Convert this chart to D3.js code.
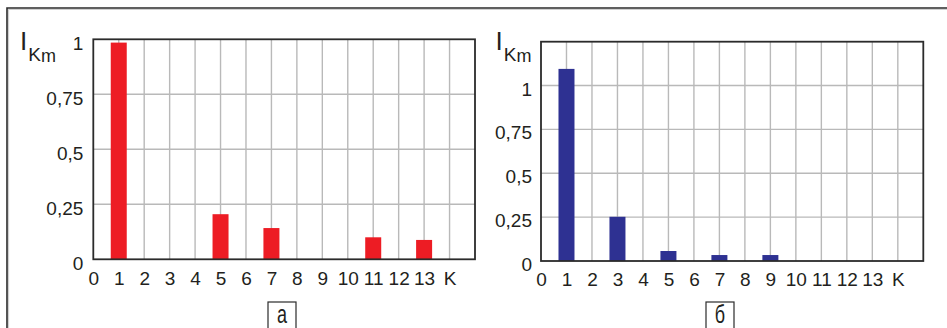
<!DOCTYPE html>
<html>
<head>
<meta charset="utf-8">
<script src="https://cdn.jsdelivr.net/npm/d3@7"></script>
<style>
  html, body { margin: 0; padding: 0; background: #fff; }
  svg { display: block; }
  text { font-family: "Liberation Sans", Arial, sans-serif; fill: #231f20; }
</style>
</head>
<body>
<svg id="chart" width="947" height="328"></svg>
<script>
// ---- data ----
const xTickLabels = ["0","1","2","3","4","5","6","7","8","9","10","11","12","13","K"];
const harmonicsA = [1, 5, 7, 11, 13];
const valuesA = [0.985, 0.205, 0.142, 0.10, 0.088];
const harmonicsB = [1, 3, 5, 7, 9];
const valuesB = [1.095, 0.252, 0.057, 0.034, 0.034];
const yTicksA = [0, 0.25, 0.5, 0.75, 1];
const yTicksB = [0, 0.25, 0.5, 0.75, 1];
const yGridB = [0.25, 0.5, 0.75, 1];
const panelLabels = ["а", "б"];

const svg = d3.select("#chart");

// outer frame
svg.append("path").attr("d", "M8.5,330 L8.5,9.5 L947,9.5").attr("fill", "none").attr("stroke", "#d0d0d0").attr("stroke-width", 1.2);
svg.append("path").attr("d", "M7,330 L7,8 L947,8").attr("fill", "none").attr("stroke", "#2b2b2b").attr("stroke-width", 1.6);

const fmt = d => String(d).replace(".", ",");

function panel(cfg) {
  const x = d3.scaleLinear().domain([0, 15]).range([cfg.left, cfg.right]);
  const y = d3.scaleLinear().domain([0, cfg.ymax]).range([cfg.bottom, cfg.top]);
  const g = svg.append("g");

  // vertical grid
  g.append("g").selectAll("line").data(d3.range(1, 15)).join("line")
    .attr("x1", d => x(d)).attr("x2", d => x(d))
    .attr("y1", cfg.top).attr("y2", cfg.bottom)
    .attr("stroke", "#b9b9b9").attr("stroke-width", 1.4);
  // horizontal grid
  g.append("g").selectAll("line").data(cfg.grid).join("line")
    .attr("x1", cfg.left).attr("x2", cfg.right)
    .attr("y1", d => y(d)).attr("y2", d => y(d))
    .attr("stroke", "#b9b9b9").attr("stroke-width", 1.4);

  // bars
  const bw = 16;
  g.append("g").selectAll("rect").data(cfg.h.map((h, i) => ({h, v: cfg.v[i]}))).join("rect")
    .attr("x", d => x(d.h) - bw / 2)
    .attr("width", bw)
    .attr("y", d => y(d.v))
    .attr("height", d => y(0) - y(d.v))
    .attr("fill", cfg.color);

  // frame of plot
  g.append("rect")
    .attr("x", cfg.left).attr("y", cfg.top)
    .attr("width", cfg.right - cfg.left).attr("height", cfg.bottom - cfg.top)
    .attr("fill", "none").attr("stroke", "#2b2b2b").attr("stroke-width", 1.8);

  // x axis labels
  const xa = g.append("g").attr("transform", `translate(0,${cfg.bottom})`)
    .call(d3.axisBottom(x).tickValues(d3.range(0, 15)).tickSize(0).tickPadding(12)
      .tickFormat(d => xTickLabels[d]));
  xa.select(".domain").remove();
  xa.selectAll("text").attr("font-size", 19).attr("font-family", "Liberation Sans, Arial, sans-serif").attr("fill", "#231f20");

  // y axis labels
  const ya = g.append("g").attr("transform", `translate(${cfg.left},0)`)
    .call(d3.axisLeft(y).tickValues(cfg.yticks).tickSize(0).tickPadding(cfg.pad).tickFormat(fmt));
  ya.select(".domain").remove();
  ya.selectAll("text").attr("font-size", 19).attr("dy", cfg.dy).attr("font-family", "Liberation Sans, Arial, sans-serif").attr("fill", "#231f20");

  // axis title I_Km
  const t = g.append("text").attr("x", cfg.tx).attr("y", 50);
  t.append("tspan").attr("font-size", 26).text("I");
  t.append("tspan").attr("font-size", 19).attr("dx", 1).attr("dy", 10.5).text("K");
  t.append("tspan").attr("font-size", 18).attr("dy", 1).text("m");

  // panel label box
  const cx = cfg.labelX;
  g.append("rect").attr("x", cx - 14).attr("y", 302).attr("width", 28).attr("height", 40)
    .attr("fill", "#fff").attr("stroke", "#2b2b2b").attr("stroke-width", 1.2);
  g.append("text").attr("transform", `translate(${cx},323) scale(0.72,1)`)
    .attr("text-anchor", "middle").attr("font-size", 25).text(cfg.label);
}

panel({left: 93.3, right: 475, top: 39.3, bottom: 259.3, ymax: 1,
  grid: [0.25, 0.5, 0.75], yticks: yTicksA, h: harmonicsA, v: valuesA,
  color: "#ed1c24", pad: 10, dy: "0.55em", tx: 20, labelX: 282, label: panelLabels[0]});
panel({left: 541, right: 923.3, top: 41.7, bottom: 261, ymax: 1.25,
  grid: yGridB, yticks: yTicksB, h: harmonicsB, v: valuesB,
  color: "#2e3192", pad: 9, dy: "0.5em", tx: 495.5, labelX: 720, label: panelLabels[1]});
</script>
</body>
</html>
